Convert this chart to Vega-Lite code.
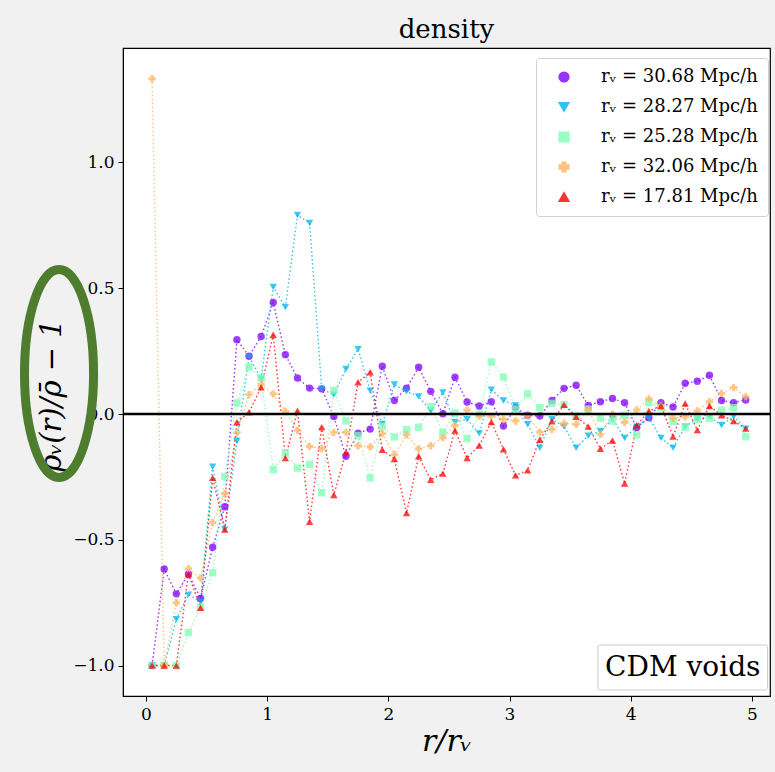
{
"$schema": "https://vega.github.io/schema/vega-lite/v6.json",
"width": 647, "height": 648,
"autosize": {"type": "none"},
"padding": {"left": 123, "top": 48, "right": 5, "bottom": 76},
"background": "#f1f1f1",
"view": {"fill": "white", "stroke": "black", "strokeWidth": 1.2},
"title": {"text": "density", "font": "DejaVu Serif", "fontSize": 26, "fontWeight": "normal", "color": "black", "offset": 5},
"config": {"font": "DejaVu Serif"},
"datasets": {"d": [
{"s":"30.68","r":0.05,"v":-1.0},{"s":"30.68","r":0.15,"v":-0.616},{"s":"30.68","r":0.25,"v":-0.715},{"s":"30.68","r":0.35,"v":-0.636},{"s":"30.68","r":0.45,"v":-0.733},{"s":"30.68","r":0.55,"v":-0.53},{"s":"30.68","r":0.65,"v":-0.369},{"s":"30.68","r":0.75,"v":0.295},{"s":"30.68","r":0.85,"v":0.23},{"s":"30.68","r":0.95,"v":0.308},
{"s":"30.68","r":1.05,"v":0.443},{"s":"30.68","r":1.15,"v":0.236},{"s":"30.68","r":1.25,"v":0.143},{"s":"30.68","r":1.35,"v":0.103},{"s":"30.68","r":1.45,"v":0.10},{"s":"30.68","r":1.55,"v":-0.01},{"s":"30.68","r":1.65,"v":-0.168},{"s":"30.68","r":1.75,"v":-0.076},{"s":"30.68","r":1.85,"v":-0.06},{"s":"30.68","r":1.95,"v":0.19},
{"s":"30.68","r":2.05,"v":0.054},{"s":"30.68","r":2.15,"v":0.103},{"s":"30.68","r":2.25,"v":0.186},{"s":"30.68","r":2.35,"v":0.09},{"s":"30.68","r":2.45,"v":0.001},{"s":"30.68","r":2.55,"v":0.146},{"s":"30.68","r":2.65,"v":0.048},{"s":"30.68","r":2.75,"v":0.032},{"s":"30.68","r":2.85,"v":0.049},{"s":"30.68","r":2.95,"v":-0.048},
{"s":"30.68","r":3.05,"v":0.025},{"s":"30.68","r":3.15,"v":-0.005},{"s":"30.68","r":3.25,"v":-0.008},{"s":"30.68","r":3.35,"v":0.054},{"s":"30.68","r":3.45,"v":0.102},{"s":"30.68","r":3.55,"v":0.114},{"s":"30.68","r":3.65,"v":0.034},{"s":"30.68","r":3.75,"v":0.049},{"s":"30.68","r":3.85,"v":0.062},{"s":"30.68","r":3.95,"v":0.045},
{"s":"30.68","r":4.05,"v":-0.054},{"s":"30.68","r":4.15,"v":-0.015},{"s":"30.68","r":4.25,"v":0.045},{"s":"30.68","r":4.35,"v":0.028},{"s":"30.68","r":4.45,"v":0.122},{"s":"30.68","r":4.55,"v":0.13},{"s":"30.68","r":4.65,"v":0.154},{"s":"30.68","r":4.75,"v":0.054},{"s":"30.68","r":4.85,"v":0.045},{"s":"30.68","r":4.95,"v":0.056},
{"s":"28.27","r":0.05,"v":-1.0},{"s":"28.27","r":0.15,"v":-1.0},{"s":"28.27","r":0.25,"v":-0.816},{"s":"28.27","r":0.35,"v":-0.718},{"s":"28.27","r":0.45,"v":-0.746},{"s":"28.27","r":0.55,"v":-0.21},{"s":"28.27","r":0.65,"v":-0.459},{"s":"28.27","r":0.75,"v":-0.107},{"s":"28.27","r":0.85,"v":0.228},{"s":"28.27","r":0.95,"v":0.14},
{"s":"28.27","r":1.05,"v":0.505},{"s":"28.27","r":1.15,"v":0.425},{"s":"28.27","r":1.25,"v":0.791},{"s":"28.27","r":1.35,"v":0.759},{"s":"28.27","r":1.45,"v":0.10},{"s":"28.27","r":1.55,"v":0.077},{"s":"28.27","r":1.65,"v":0.179},{"s":"28.27","r":1.75,"v":0.258},{"s":"28.27","r":1.85,"v":0.093},{"s":"28.27","r":1.95,"v":-0.04},
{"s":"28.27","r":2.05,"v":0.117},{"s":"28.27","r":2.15,"v":0.09},{"s":"28.27","r":2.25,"v":0.07},{"s":"28.27","r":2.35,"v":0.013},{"s":"28.27","r":2.45,"v":0.086},{"s":"28.27","r":2.55,"v":-0.033},{"s":"28.27","r":2.65,"v":-0.021},{"s":"28.27","r":2.75,"v":-0.077},{"s":"28.27","r":2.85,"v":0.097},{"s":"28.27","r":2.95,"v":0.054},
{"s":"28.27","r":3.05,"v":0.034},{"s":"28.27","r":3.15,"v":-0.041},{"s":"28.27","r":3.25,"v":-0.134},{"s":"28.27","r":3.35,"v":-0.021},{"s":"28.27","r":3.45,"v":-0.05},{"s":"28.27","r":3.55,"v":-0.134},{"s":"28.27","r":3.65,"v":-0.086},{"s":"28.27","r":3.75,"v":-0.068},{"s":"28.27","r":3.85,"v":-0.02},{"s":"28.27","r":3.95,"v":-0.095},
{"s":"28.27","r":4.05,"v":-0.05},{"s":"28.27","r":4.15,"v":-0.015},{"s":"28.27","r":4.25,"v":-0.095},{"s":"28.27","r":4.35,"v":-0.134},{"s":"28.27","r":4.45,"v":-0.05},{"s":"28.27","r":4.55,"v":-0.02},{"s":"28.27","r":4.65,"v":-0.01},{"s":"28.27","r":4.75,"v":-0.044},{"s":"28.27","r":4.85,"v":-0.01},{"s":"28.27","r":4.95,"v":-0.058},
{"s":"25.28","r":0.05,"v":-1.0},{"s":"25.28","r":0.15,"v":-1.0},{"s":"25.28","r":0.25,"v":-1.0},{"s":"25.28","r":0.35,"v":-0.869},{"s":"25.28","r":0.45,"v":-0.767},{"s":"25.28","r":0.55,"v":-0.631},{"s":"25.28","r":0.65,"v":-0.249},{"s":"25.28","r":0.75,"v":0.044},{"s":"25.28","r":0.85,"v":0.187},{"s":"25.28","r":0.95,"v":0.143},
{"s":"25.28","r":1.05,"v":-0.221},{"s":"25.28","r":1.15,"v":-0.155},{"s":"25.28","r":1.25,"v":-0.215},{"s":"25.28","r":1.35,"v":-0.2},{"s":"25.28","r":1.45,"v":-0.313},{"s":"25.28","r":1.55,"v":0.094},{"s":"25.28","r":1.65,"v":-0.027},{"s":"25.28","r":1.75,"v":-0.086},{"s":"25.28","r":1.85,"v":-0.254},{"s":"25.28","r":1.95,"v":-0.049},
{"s":"25.28","r":2.05,"v":-0.091},{"s":"25.28","r":2.15,"v":-0.062},{"s":"25.28","r":2.25,"v":-0.053},{"s":"25.28","r":2.35,"v":0.03},{"s":"25.28","r":2.45,"v":-0.073},{"s":"25.28","r":2.55,"v":0.004},{"s":"25.28","r":2.65,"v":-0.098},{"s":"25.28","r":2.75,"v":0.0},{"s":"25.28","r":2.85,"v":0.207},{"s":"25.28","r":2.95,"v":0.147},
{"s":"25.28","r":3.05,"v":0.019},{"s":"25.28","r":3.15,"v":0.08},{"s":"25.28","r":3.25,"v":0.025},{"s":"25.28","r":3.35,"v":0.042},{"s":"25.28","r":3.45,"v":0.037},{"s":"25.28","r":3.55,"v":-0.008},{"s":"25.28","r":3.65,"v":0.019},{"s":"25.28","r":3.75,"v":-0.017},{"s":"25.28","r":3.85,"v":-0.028},{"s":"25.28","r":3.95,"v":-0.005},
{"s":"25.28","r":4.05,"v":-0.083},{"s":"25.28","r":4.15,"v":0.045},{"s":"25.28","r":4.25,"v":0.025},{"s":"25.28","r":4.35,"v":-0.03},{"s":"25.28","r":4.45,"v":-0.054},{"s":"25.28","r":4.55,"v":-0.021},{"s":"25.28","r":4.65,"v":-0.017},{"s":"25.28","r":4.75,"v":0.015},{"s":"25.28","r":4.85,"v":0.025},{"s":"25.28","r":4.95,"v":-0.09},
{"s":"32.06","r":0.05,"v":1.333},{"s":"32.06","r":0.15,"v":-1.0},{"s":"32.06","r":0.25,"v":-0.75},{"s":"32.06","r":0.35,"v":-0.615},{"s":"32.06","r":0.45,"v":-0.652},{"s":"32.06","r":0.55,"v":-0.431},{"s":"32.06","r":0.65,"v":-0.316},{"s":"32.06","r":0.75,"v":-0.074},{"s":"32.06","r":0.85,"v":0.077},{"s":"32.06","r":0.95,"v":0.117},
{"s":"32.06","r":1.05,"v":0.08},{"s":"32.06","r":1.15,"v":0.011},{"s":"32.06","r":1.25,"v":-0.065},{"s":"32.06","r":1.35,"v":-0.129},{"s":"32.06","r":1.45,"v":-0.138},{"s":"32.06","r":1.55,"v":-0.073},{"s":"32.06","r":1.65,"v":-0.073},{"s":"32.06","r":1.75,"v":-0.126},{"s":"32.06","r":1.85,"v":-0.131},{"s":"32.06","r":1.95,"v":-0.078},
{"s":"32.06","r":2.05,"v":-0.162},{"s":"32.06","r":2.15,"v":-0.082},{"s":"32.06","r":2.25,"v":-0.139},{"s":"32.06","r":2.35,"v":-0.126},{"s":"32.06","r":2.45,"v":-0.094},{"s":"32.06","r":2.55,"v":-0.046},{"s":"32.06","r":2.65,"v":0.016},{"s":"32.06","r":2.75,"v":-0.008},{"s":"32.06","r":2.85,"v":-0.008},{"s":"32.06","r":2.95,"v":-0.021},
{"s":"32.06","r":3.05,"v":-0.028},{"s":"32.06","r":3.15,"v":-0.008},{"s":"32.06","r":3.25,"v":-0.072},{"s":"32.06","r":3.35,"v":-0.061},{"s":"32.06","r":3.45,"v":-0.037},{"s":"32.06","r":3.55,"v":-0.041},{"s":"32.06","r":3.65,"v":0.019},{"s":"32.06","r":3.75,"v":-0.081},{"s":"32.06","r":3.85,"v":-0.001},{"s":"32.06","r":3.95,"v":-0.034},
{"s":"32.06","r":4.05,"v":0.016},{"s":"32.06","r":4.15,"v":0.061},{"s":"32.06","r":4.25,"v":0.032},{"s":"32.06","r":4.35,"v":-0.017},{"s":"32.06","r":4.45,"v":-0.011},{"s":"32.06","r":4.55,"v":0.012},{"s":"32.06","r":4.65,"v":0.049},{"s":"32.06","r":4.75,"v":0.082},{"s":"32.06","r":4.85,"v":0.105},{"s":"32.06","r":4.95,"v":0.069},
{"s":"17.81","r":0.05,"v":-1.0},{"s":"17.81","r":0.15,"v":-1.0},{"s":"17.81","r":0.25,"v":-1.0},{"s":"17.81","r":0.35,"v":-0.636},{"s":"17.81","r":0.45,"v":-0.77},{"s":"17.81","r":0.55,"v":-0.254},{"s":"17.81","r":0.65,"v":-0.459},{"s":"17.81","r":0.75,"v":-0.033},{"s":"17.81","r":0.85,"v":0.007},{"s":"17.81","r":0.95,"v":0.106},
{"s":"17.81","r":1.05,"v":0.315},{"s":"17.81","r":1.15,"v":-0.175},{"s":"17.81","r":1.25,"v":0.013},{"s":"17.81","r":1.35,"v":-0.428},{"s":"17.81","r":1.45,"v":-0.052},{"s":"17.81","r":1.55,"v":-0.322},{"s":"17.81","r":1.65,"v":-0.152},{"s":"17.81","r":1.75,"v":0.126},{"s":"17.81","r":1.85,"v":0.166},{"s":"17.81","r":1.95,"v":-0.142},
{"s":"17.81","r":2.05,"v":-0.179},{"s":"17.81","r":2.15,"v":-0.394},{"s":"17.81","r":2.25,"v":-0.168},{"s":"17.81","r":2.35,"v":-0.261},{"s":"17.81","r":2.45,"v":-0.237},{"s":"17.81","r":2.55,"v":-0.066},{"s":"17.81","r":2.65,"v":-0.175},{"s":"17.81","r":2.75,"v":-0.125},{"s":"17.81","r":2.85,"v":-0.032},{"s":"17.81","r":2.95,"v":-0.14},
{"s":"17.81","r":3.05,"v":-0.244},{"s":"17.81","r":3.15,"v":-0.224},{"s":"17.81","r":3.25,"v":-0.102},{"s":"17.81","r":3.35,"v":-0.029},{"s":"17.81","r":3.45,"v":0.037},{"s":"17.81","r":3.55,"v":-0.011},{"s":"17.81","r":3.65,"v":-0.05},{"s":"17.81","r":3.75,"v":-0.138},{"s":"17.81","r":3.85,"v":-0.105},{"s":"17.81","r":3.95,"v":-0.276},
{"s":"17.81","r":4.05,"v":-0.045},{"s":"17.81","r":4.15,"v":0.012},{"s":"17.81","r":4.25,"v":0.032},{"s":"17.81","r":4.35,"v":-0.09},{"s":"17.81","r":4.45,"v":0.042},{"s":"17.81","r":4.55,"v":-0.064},{"s":"17.81","r":4.65,"v":0.032},{"s":"17.81","r":4.75,"v":-0.005},{"s":"17.81","r":4.85,"v":-0.028},{"s":"17.81","r":4.95,"v":-0.058}
]},
"layer": [
{"data": {"name": "d"},
 "mark": {"type": "line", "strokeDash": [1.5, 2.5], "strokeWidth": 1.4, "opacity": 0.8},
 "encoding": {
  "x": {"field": "r", "type": "quantitative",
        "scale": {"domain": [-0.19, 5.15], "nice": false, "zero": false},
        "axis": {"values": [0, 1, 2, 3, 4, 5], "format": "d", "grid": false, "domainColor": "black", "tickColor": "black", "tickSize": 5, "labelFontSize": 17, "labelColor": "black", "labelPadding": 5, "labelFont": "DejaVu Serif",
                 "title": "r/rᵥ", "titleFont": "DejaVu Serif", "titleFontSize": 30, "titleFontWeight": "normal", "titleFontStyle": "italic", "titleColor": "black", "titlePadding": 4}},
  "y": {"field": "v", "type": "quantitative",
        "scale": {"domain": [-1.121, 1.455], "nice": false, "zero": false},
        "axis": {"values": [-1, -0.5, 0, 0.5, 1], "format": ".1f", "grid": false, "domainColor": "black", "tickColor": "black", "tickSize": 5, "labelFontSize": 17, "labelColor": "black", "labelPadding": 4, "labelFont": "DejaVu Serif",
                 "title": "ρᵥ(r)/ρ̄ − 1", "titleFont": "DejaVu Serif", "titleFontSize": 29, "titleFontWeight": "normal", "titleFontStyle": "italic", "titleColor": "black", "titlePadding": 6, "titleY": 347}},
  "color": {"field": "s", "type": "nominal",
            "scale": {"domain": ["30.68", "28.27", "25.28", "32.06", "17.81"], "range": ["#8000ff", "#00b4eb", "#80ffb4", "#ffb462", "#ff0000"]}}
 }},
{"data": {"name": "d"},
 "mark": {"type": "point", "filled": true, "size": 55, "opacity": 0.75},
 "encoding": {
  "x": {"field": "r", "type": "quantitative"},
  "y": {"field": "v", "type": "quantitative"},
  "color": {"field": "s", "type": "nominal",
            "legend": {"title": null, "orient": "none", "legendX": 413, "legendY": 10, "fillColor": "white", "strokeColor": "#d0d0d0", "cornerRadius": 3, "padding": 10,
                       "labelFont": "DejaVu Serif", "labelFontSize": 18, "labelColor": "black", "labelLimit": 300, "labelOffset": 28, "symbolOffset": 9, "symbolSize": 95, "symbolOpacity": 0.85, "rowPadding": 12,
                       "labelExpr": "'rᵥ = ' + datum.label + ' Mpc/h'"}},
  "shape": {"field": "s", "type": "nominal",
            "scale": {"domain": ["30.68", "28.27", "25.28", "32.06", "17.81"], "range": ["circle", "triangle-down", "square", "cross", "triangle-up"]},
            "legend": {"title": null, "orient": "none", "legendX": 413, "legendY": 10, "fillColor": "white", "strokeColor": "#d0d0d0", "cornerRadius": 3, "padding": 10,
                       "labelFont": "DejaVu Serif", "labelFontSize": 18, "labelColor": "black", "labelLimit": 300, "labelOffset": 28, "symbolOffset": 9, "symbolSize": 95, "symbolOpacity": 0.85, "rowPadding": 12,
                       "labelExpr": "'rᵥ = ' + datum.label + ' Mpc/h'"}}
 }},
{"data": {"values": [{}]},
 "mark": {"type": "rule", "color": "black", "strokeWidth": 2.5},
 "encoding": {"y": {"datum": 0}}},
{"data": {"values": [{}]},
 "mark": {"type": "rect", "fill": "white", "stroke": "#cccccc", "strokeWidth": 1, "cornerRadius": 2},
 "encoding": {"x": {"datum": 3.73}, "x2": {"datum": 5.13}, "y": {"datum": -0.918}, "y2": {"datum": -1.097}}},
{"data": {"values": [{}]},
 "mark": {"type": "text", "text": "CDM voids", "font": "DejaVu Serif", "fontSize": 28, "color": "black", "align": "center", "baseline": "middle"},
 "encoding": {"x": {"datum": 4.43}, "y": {"datum": -1.008}}},
{"data": {"values": [{}]},
 "mark": {"type": "point", "shape": "M0,-1A0.332,1,0,1,1,0,1A0.332,1,0,1,1,0,-1Z", "size": 43264, "filled": false, "stroke": "#4e7d2e", "strokeWidth": 9, "opacity": 1},
 "encoding": {"x": {"datum": -0.718}, "y": {"datum": 0.161}}}
]
}
